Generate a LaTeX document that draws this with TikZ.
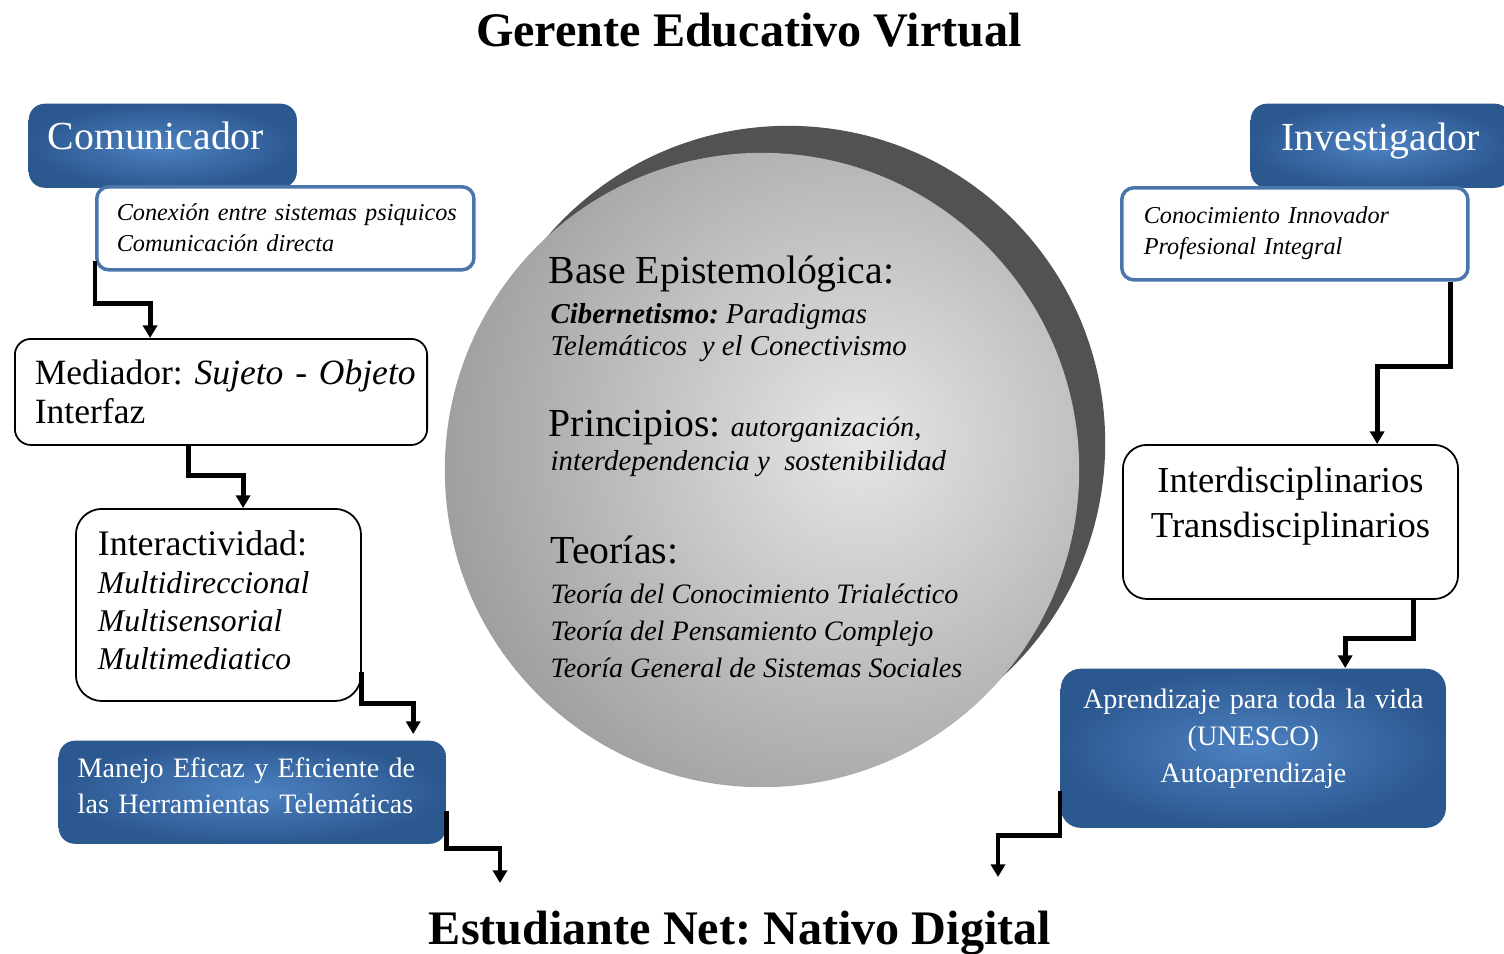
\documentclass[tikz,border=0pt]{standalone}
\usepackage{fontspec}
\setmainfont{Liberation Serif}
\usetikzlibrary{arrows.meta}
\frenchspacing
\definecolor{bluein}{HTML}{4D82C2}
\definecolor{blueout}{HTML}{2C5890}
\definecolor{bordblue}{HTML}{4A76AC}
\definecolor{shadowgray}{HTML}{525252}
\definecolor{spherein}{HTML}{E6E6E6}
\definecolor{sphereout}{HTML}{727272}
\begin{document}
\begin{tikzpicture}[x=0.01cm,y=-0.01cm,
  bluebox/.style={rounded corners=0.16cm, inner color=bluein, outer color=blueout,
    text=white, anchor=north west, inner ysep=0pt},
  linebox/.style={draw=bordblue, line width=1pt, fill=white, rounded corners=0.12cm,
    anchor=north west, inner ysep=0pt},
  plainbox/.style={draw=black, line width=0.5pt, fill=white, rounded corners=0.16cm,
    anchor=north west, inner ysep=0pt},
  conn/.style={line width=1.4pt, -{Triangle[width=4pt,length=3.6pt]}},
  ctext/.style={anchor=base west, inner sep=0pt},
  ttl/.style={anchor=base, inner sep=0pt, font=\fontsize{13.7}{16}\selectfont\bfseries},
]
\useasboundingbox (0,0) rectangle (1504,953);
\fill[white] (0,0) rectangle (1504,953);

% titles
\node[ttl] (top) at (749,46) {Gerente Educativo Virtual};
\node[ttl] (bottom) at (740,944) {Estudiante Net: Nativo Digital};

% sphere
\fill[shadowgray] (788,443) circle (3.17cm);
\begin{scope}
  \clip (762,470) circle (3.17cm);
  \shade[inner color=spherein, outer color=sphereout] (860,440) circle (6.8cm);
\end{scope}

% sphere texts
\node[ctext, font=\fontsize{11.3}{13}\selectfont] (c1) at (548,283) {Base Epistemológica:};
\node[ctext, font=\fontsize{8.2}{10}\selectfont\itshape] (c2) at (550,323) {\textbf{Cibernetismo:} Paradigmas};
\node[ctext, font=\fontsize{8.2}{10}\selectfont\itshape] (c3) at (550,355) {Telemáticos\ \ y el Conectivismo};
\node[ctext, font=\fontsize{11.3}{13}\selectfont] (c4) at (548,436) {Principios: {\fontsize{8}{10}\selectfont\itshape autorganización,}};
\node[ctext, font=\fontsize{8.2}{10}\selectfont\itshape] (c5) at (550,470) {interdependencia y\ \ sostenibilidad};
\node[ctext, font=\fontsize{11.3}{13}\selectfont] (c6) at (550,563) {Teorías:};
\node[ctext, font=\fontsize{8}{10}\selectfont\itshape] (c7) at (550,603) {Teoría del Conocimiento Trialéctico};
\node[ctext, font=\fontsize{8}{10}\selectfont\itshape] (c8) at (550,640) {Teoría del Pensamiento Complejo};
\node[ctext, font=\fontsize{8}{10}\selectfont\itshape] (c9) at (550,677) {Teoría General de Sistemas Sociales};

% left column
\node[bluebox, inner xsep=0.19cm, text width=2.30cm, align=left,
  text height=0.46cm, text depth=0.38cm, font=\fontsize{11.3}{13}\selectfont]
  (comunicador) at (28,103) {\mbox{Comunicador}};
\node[linebox, inner xsep=0.20cm, text width=3.37cm, align=left,
  text height=0.34cm, text depth=0.49cm, font=\fontsize{6.9}{8.8}\selectfont\itshape]
  (conexion) at (95,185) {\mbox{Conexión entre sistemas psiquicos}\\ \mbox{Comunicación directa}};
\node[plainbox, inner xsep=0.20cm, text width=3.72cm, align=left,
  text height=0.46cm, text depth=0.60cm, font=\fontsize{10.1}{11.1}\selectfont]
  (mediador) at (14,338) {\mbox{Mediador: \textit{Sujeto - Objeto}}\\ \mbox{Interfaz}};
\node[plainbox, rounded corners=0.26cm, inner xsep=0.22cm, text width=2.41cm, align=left,
  text height=0.47cm, text depth=1.45cm, font=\fontsize{10.2}{10.8}\selectfont]
  (interact) at (75,508) {\mbox{Interactividad:}\\ {\fontsize{9}{10.8}\selectfont\itshape \mbox{Multidireccional}\\ \mbox{Multisensorial}\\ \mbox{Multimediatico}}};
\node[bluebox, inner xsep=0.19cm, text width=3.49cm, align=left,
  text height=0.37cm, text depth=0.66cm, font=\fontsize{8}{10.2}\selectfont]
  (manejo) at (58,740) {\makebox[\linewidth][s]{Manejo Eficaz y Eficiente de}\\ \mbox{las Herramientas Telemáticas}};

% right column
\node[bluebox, inner xsep=0.19cm, text width=2.22cm, align=center,
  text height=0.47cm, text depth=0.37cm, font=\fontsize{11.3}{13}\selectfont]
  (investigador) at (1250,103) {\mbox{Investigador}};
\node[linebox, inner xsep=0.22cm, text width=3.02cm, align=left,
  text height=0.36cm, text depth=0.56cm, font=\fontsize{6.9}{8.8}\selectfont\itshape]
  (conoc) at (1120,186) {\mbox{Conocimiento Innovador}\\ \mbox{Profesional Integral}};
\node[plainbox, rounded corners=0.24cm, inner xsep=0.20cm, text width=2.95cm, align=center,
  text height=0.48cm, text depth=1.06cm, font=\fontsize{10.4}{12.8}\selectfont]
  (interd) at (1122,444) {\mbox{Interdisciplinarios}\\ \mbox{Transdisciplinarios}};
\node[bluebox, rounded corners=0.2cm, inner xsep=0.19cm, text width=3.47cm, align=center,
  text height=0.40cm, text depth=1.19cm, font=\fontsize{8}{10.5}\selectfont]
  (aprend) at (1060,668) {\mbox{Aprendizaje para toda la vida}\\ (UNESCO)\\ Autoaprendizaje};

% free ends
\coordinate (endL) at (500,883);
\coordinate (endR) at (998,877);

% connectors
\draw[conn] ([yshift=0.11cm]conexion.south west) -- ++(0,43) -| ([xshift=1.36cm]mediador.north west);
\draw[conn] ([xshift=1.74cm]mediador.south west) -- ++(0,30) -| ([xshift=1.68cm]interact.north west);
\draw[conn] ([yshift=0.30cm]interact.south east) -- ++(0,32) -| ([xshift=3.55cm,yshift=0.06cm]manejo.north west);
\draw[conn] ([yshift=0.33cm]manejo.south east) -- ++(0,37) -| (endL);
\draw[conn] ([xshift=-0.19cm]conoc.south east) -- ++(0,85) -| ([xshift=2.55cm]interd.north west);
\draw[conn] ([xshift=2.91cm]interd.south west) -- ++(0,39) -| ([xshift=2.85cm]aprend.north west);
\draw[conn] ([yshift=0.38cm]aprend.south west) -- ++(0,45) -| (endR);
\end{tikzpicture}
\end{document}
